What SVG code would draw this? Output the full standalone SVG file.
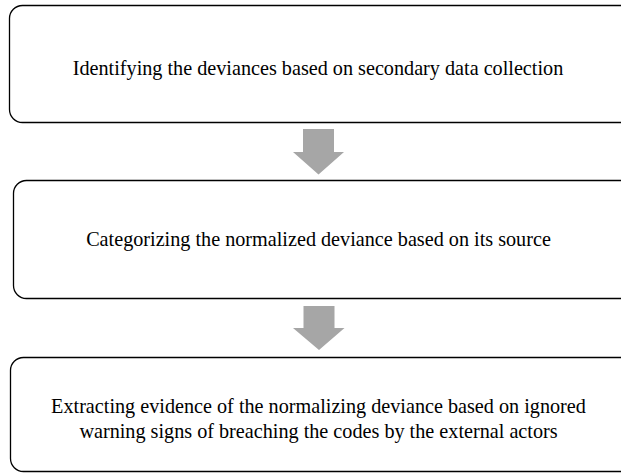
<svg xmlns="http://www.w3.org/2000/svg" width="621" height="474" viewBox="0 0 621 474">
<style>
.box{fill:#ffffff;stroke:#000000;stroke-width:1.3}
.lbl{font-family:'Liberation Serif','Times New Roman','DejaVu Serif',serif;font-size:20.2px;fill:#000000;text-anchor:middle}
.arr{fill:#a6a6a6;stroke:none}
</style>
<rect width="621" height="474" fill="#ffffff"/>
<g id="node1">
<rect class="box" x="9.5" y="5.5" width="624" height="117" rx="13" ry="13"/>
<text class="lbl" x="318" y="75">Identifying the deviances based on secondary data collection</text>
</g>
<g id="node2">
<rect class="box" x="13.5" y="180.5" width="620" height="118" rx="13" ry="13"/>
<text class="lbl" x="318.5" y="246">Categorizing the normalized deviance based on its source</text>
</g>
<g id="node3">
<rect class="box" x="10.5" y="357.5" width="623" height="114" rx="13" ry="13"/>
<text class="lbl" x="318.5" y="413">Extracting evidence of the normalizing deviance based on ignored</text>
<text class="lbl" x="318.5" y="437.5">warning signs of breaching the codes by the external actors</text>
</g>
<g id="connectors">
<polygon class="arr" points="303,129 334,129 334,152 344,152 318.5,174.5 293,152 303,152"/>
<polygon class="arr" points="303.5,306 334.5,306 334.5,328 344.5,328 319,350 293,328 303.5,328"/>
</g>
</svg>
